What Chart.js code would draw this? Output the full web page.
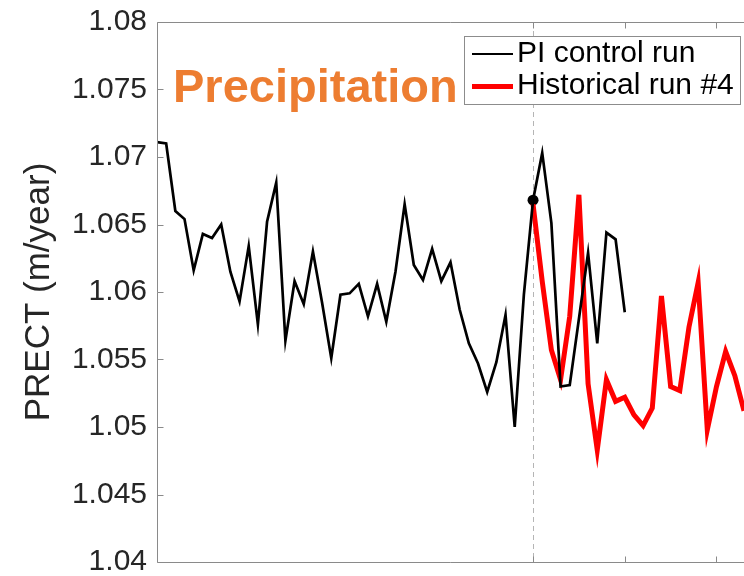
<!DOCTYPE html>
<html>
<head>
<meta charset="utf-8">
<script src="https://cdn.jsdelivr.net/npm/chart.js@4/dist/chart.umd.min.js"></script>
<style>
  html, body { margin: 0; padding: 0; background: #fff; overflow: hidden; }
  #wrap { position: relative; width: 744px; height: 576px; }
  #chart { position: absolute; left: 0; top: 0; }
  .note {
    position: absolute; left: 173px; top: 62px;
    font: bold 47px "Liberation Sans", Arial, sans-serif; line-height: 47px;
    color: #ed7d31; white-space: nowrap;
  }
  .legend {
    position: absolute; left: 464px; top: 36px; width: 275px; height: 67px;
    border: 1px solid #8c8c8c; background: #fff;
  }
  .legend .swatch { position: absolute; left: 7px; width: 41px; }
  .legend .label {
    position: absolute; left: 52px; white-space: nowrap;
    font: 30px "Liberation Sans", Arial, sans-serif; line-height: 30px; color: #000;
  }
</style>
</head>
<body>
<div id="wrap">
  <canvas id="chart" width="744" height="576"></canvas>
  <div class="note">Precipitation</div>
  <div class="legend">
    <div class="swatch" style="top:16px;height:2px;background:#000"></div>
    <div class="label" style="top:0px">PI control run</div>
    <div class="swatch" style="top:47px;height:5px;background:#ff0000"></div>
    <div class="label" style="top:32px">Historical run #4</div>
  </div>
</div>
<script>
// ---- data ----
const piStartYear = 1809;
const piValues = [
  1.0711, 1.0710, 1.0660, 1.0654, 1.0616, 1.0643, 1.0640, 1.0650, 1.0615, 1.0593,
  1.0634, 1.0576, 1.0652, 1.0681, 1.0564, 1.0608, 1.0591, 1.0630, 1.0592, 1.0551,
  1.0598, 1.0599, 1.0606, 1.0582, 1.0606, 1.0578, 1.0615, 1.0665, 1.0620, 1.0609,
  1.0632, 1.0608, 1.0622, 1.0587, 1.0562, 1.0547, 1.0526, 1.0548, 1.0583, 1.0500,
  1.0598, 1.0668, 1.0703, 1.0651, 1.0530, 1.0531, 1.0580, 1.0629, 1.0562, 1.0644,
  1.0639, 1.0585
];
const histStartYear = 1850;
const histValues = [
  1.0665, 1.0608, 1.0557, 1.0535, 1.0582, 1.0672, 1.0532, 1.0483, 1.0535, 1.0519,
  1.0522, 1.0509, 1.0501, 1.0514, 1.0597, 1.0530, 1.0527, 1.0574, 1.0607, 1.0498,
  1.0530, 1.0556, 1.0538, 1.0512
];
const xTicks = [1850, 1860, 1870];
const xRange = [1809, 1873];
const yRange = [1.04, 1.08];
const yStep = 0.005;

const piPoints = piValues.map((v, i) => ({ x: piStartYear + i, y: v }));
const histPoints = histValues.map((v, i) => ({ x: histStartYear + i, y: v }));
const branchPoint = [{ x: histStartYear, y: piValues[histStartYear - piStartYear] }];

const FRAME = '#8a8a8a';

// MATLAB-style box: left/top/bottom edges, inward ticks, dashed split line
const matlabFrame = {
  id: 'matlabFrame',
  beforeDatasetsDraw(chart) {
    const { ctx, chartArea: a, scales: { x } } = chart;
    const px = Math.round(x.getPixelForValue(histStartYear)) + 0.5;
    ctx.save();
    ctx.strokeStyle = '#b5b5b5';
    ctx.lineWidth = 1;
    ctx.setLineDash([5, 4]);
    ctx.beginPath();
    ctx.moveTo(px, a.top);
    ctx.lineTo(px, a.bottom);
    ctx.stroke();
    ctx.restore();
  },
  afterDraw(chart) {
    const { ctx, chartArea: a, scales: { x, y } } = chart;
    const L = Math.round(a.left) + 0.5, T = Math.round(a.top) + 0.5, B = Math.round(a.bottom) + 0.5;
    ctx.save();
    ctx.strokeStyle = FRAME;
    ctx.lineWidth = 1;
    ctx.beginPath();
    ctx.moveTo(a.right, T); ctx.lineTo(L, T); ctx.lineTo(L, B); ctx.lineTo(a.right, B);
    y.ticks.forEach(t => {
      const py = Math.round(y.getPixelForValue(t.value)) + 0.5;
      ctx.moveTo(L, py); ctx.lineTo(L + 6, py);
    });
    xTicks.forEach(v => {
      const px = Math.round(x.getPixelForValue(v)) + 0.5;
      ctx.moveTo(px, T); ctx.lineTo(px, T + 6);
      ctx.moveTo(px, B); ctx.lineTo(px, B - 6);
    });
    ctx.stroke();
    ctx.restore();
  }
};

new Chart(document.getElementById('chart'), {
  type: 'line',
  data: {
    datasets: [
      {
        label: 'PI control run',
        data: piPoints,
        borderColor: '#000',
        borderWidth: 2.7,
        pointRadius: 0,
        tension: 0
      },
      {
        label: 'Historical run #4',
        data: histPoints,
        borderColor: '#ff0000',
        borderWidth: 5,
        pointRadius: 0,
        tension: 0
      },
      {
        label: 'branch',
        data: branchPoint,
        showLine: false,
        pointRadius: 5.5,
        pointBackgroundColor: '#000',
        pointBorderWidth: 0
      }
    ]
  },
  options: {
    responsive: false,
    animation: false,
    layout: { autoPadding: false, padding: { top: 22, bottom: 14, left: 0, right: 0 } },
    plugins: { legend: { display: false }, tooltip: { enabled: false } },
    scales: {
      x: {
        type: 'linear',
        display: false,
        min: xRange[0],
        max: xRange[1]
      },
      y: {
        min: yRange[0],
        max: yRange[1],
        afterFit(scale) {
          scale.width = 157;
          scale.paddingTop = 0;
          scale.paddingBottom = 0;
        },
        grid: { drawOnChartArea: false, drawTicks: false },
        border: { display: false },
        ticks: {
          stepSize: yStep,
          padding: 10,
          color: '#262626',
          font: { family: '"Liberation Sans", Arial, sans-serif', size: 30 },
          callback: v => String(Number(v.toFixed(3)))
        },
        title: {
          display: true,
          text: 'PRECT (m/year)',
          color: '#262626',
          padding: { top: 18, bottom: 0 },
          font: { family: '"Liberation Sans", Arial, sans-serif', size: 35 }
        }
      }
    }
  },
  plugins: [matlabFrame]
});
</script>
</body>
</html>
